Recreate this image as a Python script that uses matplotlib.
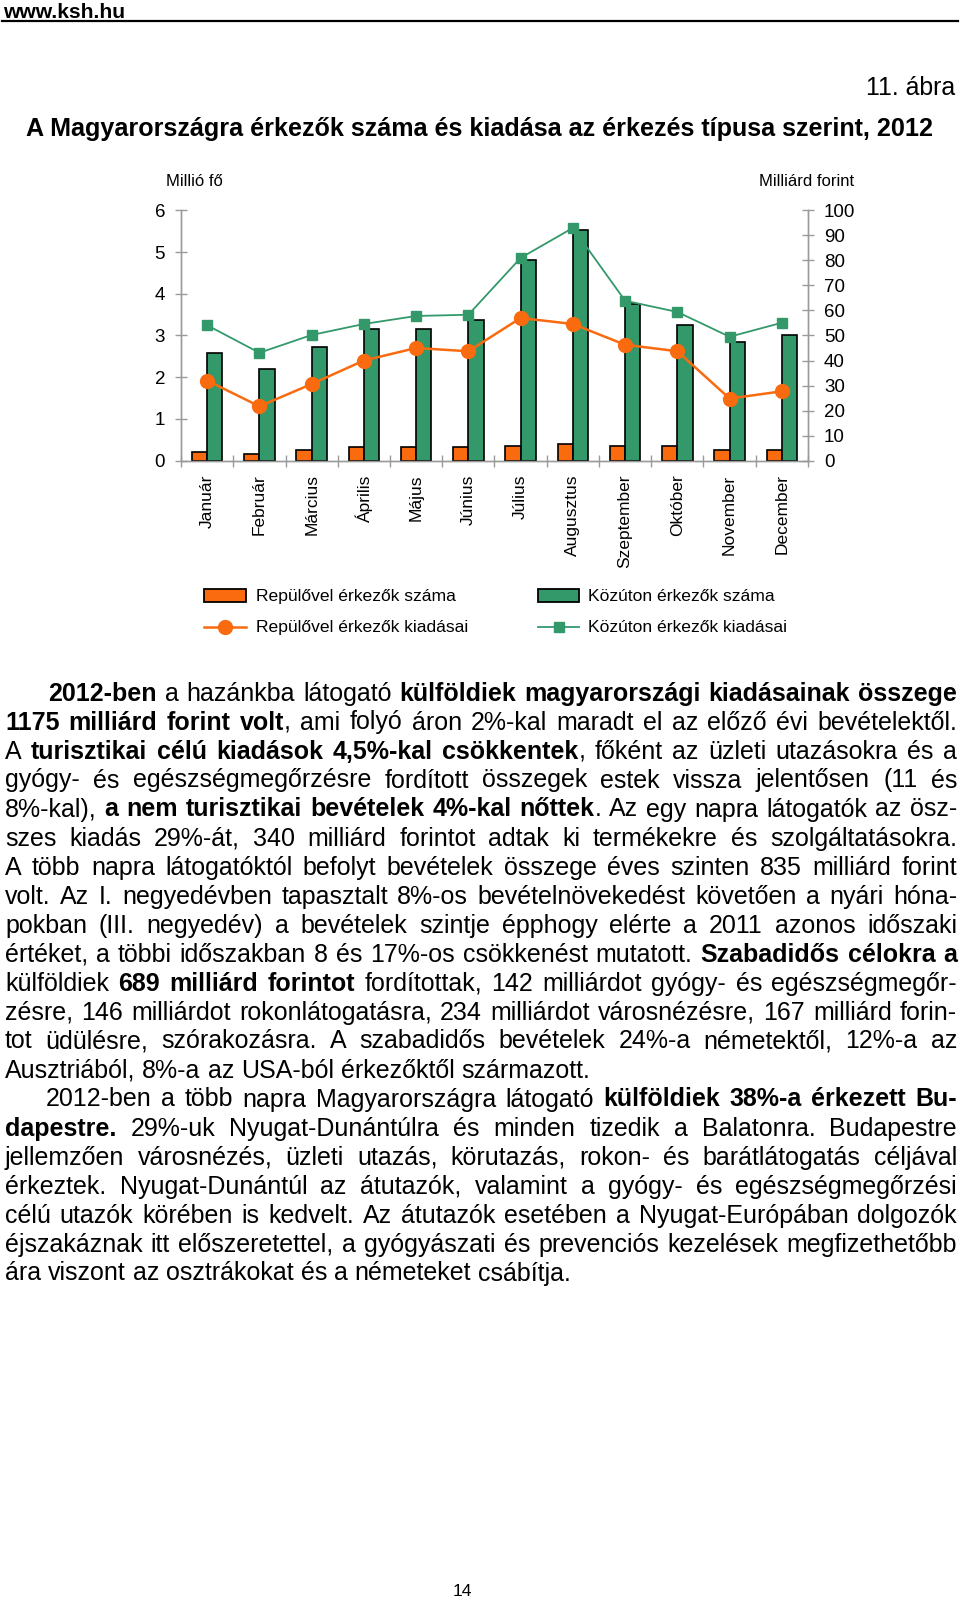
import matplotlib
matplotlib.use("Agg")
import matplotlib.pyplot as plt
from matplotlib import font_manager
from matplotlib.patches import Rectangle
from matplotlib.lines import Line2D
import numpy as np

# ---------------- data ----------------
months = ["Január", "Február", "Március", "Április", "Május", "Június",
          "Július", "Augusztus", "Szeptember", "Október", "November", "December"]
air_arrivals = [0.21, 0.17, 0.25, 0.33, 0.33, 0.33, 0.36, 0.39, 0.36, 0.36, 0.25, 0.25]
road_arrivals = [2.58, 2.20, 2.73, 3.15, 3.15, 3.37, 4.82, 5.53, 3.76, 3.26, 2.84, 3.00]
air_spending = [32.0, 21.7, 30.6, 40.0, 45.0, 43.7, 57.0, 54.6, 46.3, 43.7, 24.8, 27.7]
road_spending = [54.1, 43.1, 50.2, 54.6, 57.8, 58.3, 81.0, 93.0, 63.9, 59.4, 49.5, 55.1]
left_ticks = [0, 1, 2, 3, 4, 5, 6]
right_ticks = [0, 10, 20, 30, 40, 50, 60, 70, 80, 90, 100]
legend_labels = ["Repülővel érkezők száma", "Közúton érkezők száma",
                 "Repülővel érkezők kiadásai", "Közúton érkezők kiadásai"]

paragraph1 = [
    "**2012-ben** a hazánkba látogató **külföldiek magyarországi kiadásainak összege**",
    "**1175 milliárd forint volt**, ami folyó áron 2%-kal maradt el az előző évi bevételektől.",
    "A **turisztikai célú kiadások 4,5%-kal csökkentek**, főként az üzleti utazásokra és a",
    "gyógy- és egészségmegőrzésre fordított összegek estek vissza jelentősen (11 és",
    "8%-kal), **a nem turisztikai bevételek 4%-kal nőttek**. Az egy napra látogatók az ösz-",
    "szes kiadás 29%-át, 340 milliárd forintot adtak ki termékekre és szolgáltatásokra.",
    "A több napra látogatóktól befolyt bevételek összege éves szinten 835 milliárd forint",
    "volt. Az I. negyedévben tapasztalt 8%-os bevételnövekedést követően a nyári hóna-",
    "pokban (III. negyedév) a bevételek szintje épphogy elérte a 2011 azonos időszaki",
    "értéket, a többi időszakban 8 és 17%-os csökkenést mutatott. **Szabadidős célokra a**",
    "külföldiek **689 milliárd forintot** fordítottak, 142 milliárdot gyógy- és egészségmegőr-",
    "zésre, 146 milliárdot rokonlátogatásra, 234 milliárdot városnézésre, 167 milliárd forin-",
    "tot üdülésre, szórakozásra. A szabadidős bevételek 24%-a németektől, 12%-a az",
    "Ausztriából, 8%-a az USA-ból érkezőktől származott.",
]
paragraph2 = [
    "2012-ben a több napra Magyarországra látogató **külföldiek 38%-a érkezett Bu-**",
    "**dapestre.** 29%-uk Nyugat-Dunántúlra és minden tizedik a Balatonra. Budapestre",
    "jellemzően városnézés, üzleti utazás, körutazás, rokon- és barátlátogatás céljával",
    "érkeztek. Nyugat-Dunántúl az átutazók, valamint a gyógy- és egészségmegőrzési",
    "célú utazók körében is kedvelt. Az átutazók esetében a Nyugat-Európában dolgozók",
    "éjszakáznak itt előszeretettel, a gyógyászati és prevenciós kezelések megfizethetőbb",
    "ára viszont az osztrákokat és a németeket csábítja.",
]

# ---------------- style ----------------
W, H, DPI = 960, 1601, 100
ORANGE = "#FA6A0E"
GREEN = "#33996A"
GREY = "#9a9a9a"


def has_font(name):
    try:
        font_manager.findfont(font_manager.FontProperties(family=name),
                              fallback_to_default=False)
        return True
    except Exception:
        return False


BODY = "Liberation Sans" if has_font("Liberation Sans") else "DejaVu Sans"
NARROW_OK = has_font("Liberation Sans Narrow")
NARROW = "Liberation Sans Narrow" if NARROW_OK else BODY
plt.rcParams["font.family"] = [BODY, "DejaVu Sans"]

fig = plt.figure(figsize=(W / DPI, H / DPI), dpi=DPI)
fig.patch.set_facecolor("white")
renderer = fig.canvas.get_renderer()


def fx(x):
    return x / W


def fy(y):
    return 1 - y / H


def measure(s, **kw):
    t = fig.text(0, 0, s, **kw)
    w = t.get_window_extent(renderer=renderer).width
    t.remove()
    return w


def fit_text(x, y, s, width, ha="left", va="baseline", **kw):
    w10 = measure(s, fontsize=10, **kw)
    size = 10 * width / w10
    return fig.text(fx(x), fy(y), s, fontsize=size, ha=ha, va=va, **kw)


# ---------------- header ----------------
fit_text(3, 17.5, "www.ksh.hu", 123, family=BODY, fontweight="bold")
fig.add_artist(Line2D([fx(2), fx(958)], [fy(21.5), fy(21.5)], color="black",
                      lw=1.6, transform=fig.transFigure))
fit_text(955, 95, "11. ábra", 89, ha="right", family=BODY)
fit_text(25.5, 136, "A Magyarországra érkezők száma és kiadása az érkezés típusa szerint, 2012",
         909, family=BODY, fontweight="bold")

# ---------------- chart ----------------
L, R, T, B = 181, 808, 210.4, 460.6
ax = fig.add_axes([fx(L), fy(B), (R - L) / W, (B - T) / H])
ax2 = ax.twinx()

x = np.arange(len(months))
bw = 0.29
ax.bar(x - bw / 2, air_arrivals, bw, color=ORANGE, edgecolor="black", linewidth=1.2, zorder=3)
ax.bar(x + bw / 2, road_arrivals, bw, color=GREEN, edgecolor="black", linewidth=1.2, zorder=3)
ax2.plot(x, road_spending, color=GREEN, lw=1.3, marker="s", ms=7, zorder=4)
ax2.plot(x, air_spending, color=ORANGE, lw=1.8, marker="o", ms=10, zorder=5)

ax.set_xlim(-0.5, len(months) - 0.5)
ax.set_ylim(0, 6)
ax2.set_ylim(0, 100)

for a in (ax, ax2):
    a.spines["top"].set_visible(False)
    for side in ("left", "right", "bottom"):
        a.spines[side].set_color(GREY)
        a.spines[side].set_linewidth(1.0)
    a.patch.set_visible(False)

TICK_SIZE = 14.5 if NARROW_OK else 13.5
ax.set_yticks(left_ticks)
ax.set_yticklabels([str(v) for v in left_ticks], family=NARROW, fontsize=TICK_SIZE)
ax.tick_params(axis="y", direction="inout", length=9, width=1, color=GREY, pad=7)
ax2.set_yticks(right_ticks)
ax2.set_yticklabels([str(v) for v in right_ticks], family=NARROW, fontsize=TICK_SIZE)
ax2.tick_params(axis="y", direction="inout", length=9, width=1, color=GREY, pad=7)

ax.set_xticks(np.arange(-0.5, len(months), 1.0))
ax.set_xticklabels([])
ax.tick_params(axis="x", which="major", direction="inout", length=9, width=1, color=GREY)
ax.set_xticks(x, minor=True)
ax.set_xticklabels(months, minor=True, rotation=90, fontsize=12.5, family=BODY)
ax.tick_params(axis="x", which="minor", length=0, pad=10)

# axis titles
LBL_SIZE = 13.5 if NARROW_OK else 12.0
fig.text(fx(165.5), fy(186.5), "Millió fő", fontsize=LBL_SIZE, family=NARROW,
         ha="left", va="baseline")
fig.text(fx(854), fy(186.5), "Milliárd forint", fontsize=LBL_SIZE, family=NARROW,
         ha="right", va="baseline")

# ---------------- legend ----------------
rows = [596, 627]
cols = [(204, 246, 256), (538, 579, 588)]
hh = 13
for (x0, x1, xt), color in zip(cols, [ORANGE, GREEN]):
    fig.add_artist(Rectangle((fx(x0), fy(rows[0] + hh / 2)), (x1 - x0) / W, hh / H,
                             facecolor=color, edgecolor="black", lw=1.3,
                             transform=fig.transFigure))
for (x0, x1, xt), color, mk, ms, lw in zip(cols, [ORANGE, GREEN], ["o", "s"], [10, 7], [1.8, 1.3]):
    fig.add_artist(Line2D([fx(x0), fx(x1)], [fy(rows[1]), fy(rows[1])], color=color, lw=lw,
                          transform=fig.transFigure))
    fig.add_artist(Line2D([fx((x0 + x1) / 2)], [fy(rows[1])], color=color, marker=mk, ms=ms,
                          lw=0, transform=fig.transFigure))
LEG_SIZE = 14.5 if NARROW_OK else 12.6
positions = [(cols[0][2], rows[0]), (cols[1][2], rows[0]), (cols[0][2], rows[1]), (cols[1][2], rows[1])]
for lab, (xt, yt) in zip(legend_labels, positions):
    fig.text(fx(xt), fy(yt), lab, fontsize=LEG_SIZE, family=NARROW, ha="left", va="center")

# ---------------- body text ----------------
BODY_SIZE = 18.0
SPACE = BODY_SIZE * DPI / 72 * 0.278


def parse(line):
    parts = line.split("**")
    runs = [(p, i % 2 == 1) for i, p in enumerate(parts) if p]
    words = [[]]
    for txt, b in runs:
        segs = txt.split(" ")
        for i, s in enumerate(segs):
            if i > 0:
                words.append([])
            if s:
                words[-1].append((s, b))
    return [w for w in words if w]


def draw_line(line, x0, x1, yb, justify):
    words = parse(line)
    widths = [[measure(p, fontsize=BODY_SIZE, family=BODY,
                       fontweight="bold" if b else "normal") for p, b in w] for w in words]
    tot = sum(sum(ws) for ws in widths)
    if justify and len(words) > 1:
        gap = (x1 - x0 - tot) / (len(words) - 1)
    else:
        gap = SPACE
    xc = x0
    for w, ws in zip(words, widths):
        for (p, b), pw in zip(w, ws):
            fig.text(fx(xc), fy(yb), p, fontsize=BODY_SIZE, family=BODY,
                     fontweight="bold" if b else "normal", ha="left", va="baseline")
            xc += pw
        xc += gap


LEFT, RIGHT = 5, 957
base0, lead = 700.5, 29.0
row = 0
for pi, para in enumerate([paragraph1, paragraph2]):
    for li, line in enumerate(para):
        x0 = (48 if pi == 0 else 46) if li == 0 else LEFT
        draw_line(line, x0, RIGHT, base0 + row * lead, justify=(li < len(para) - 1))
        row += 1

fig.text(fx(462), fy(1591), "14", fontsize=12.6, family=BODY, ha="center", va="center")

fig.savefig("out.png", dpi=DPI, facecolor="white")
